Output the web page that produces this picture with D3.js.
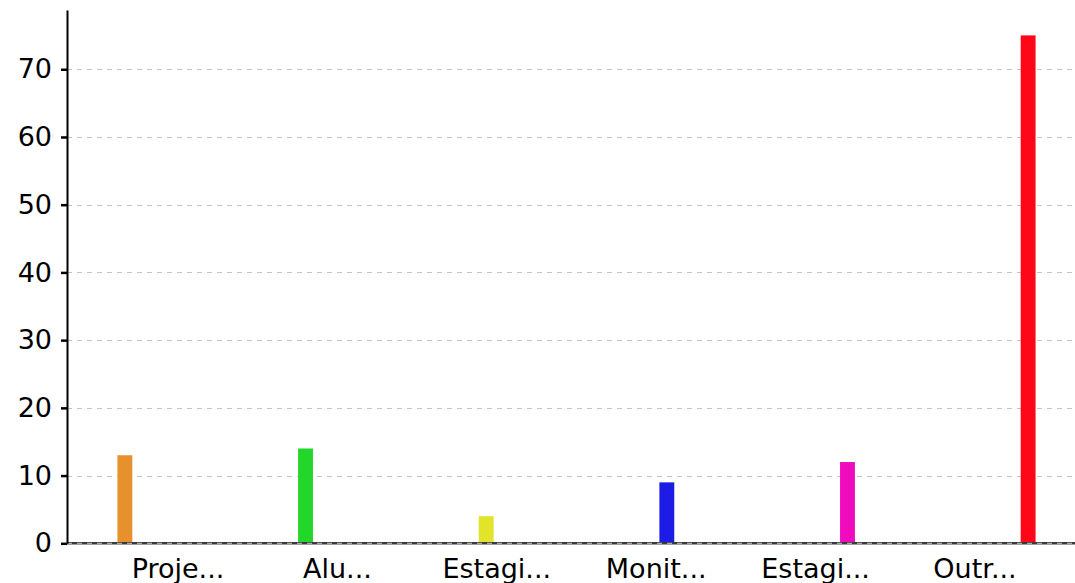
<!DOCTYPE html>
<html>
<head>
<meta charset="utf-8">
<script src="https://cdn.jsdelivr.net/npm/d3@7"></script>
<style>
  html, body { margin: 0; padding: 0; background: #fff; }
  svg { display: block; font-family: "DejaVu Sans", sans-serif; }
</style>
</head>
<body>
<svg id="chart" width="1075" height="583"></svg>
<script>
// Category labels (shortened as displayed) and one series per category
const categories = ["Proje...", "Alu...", "Estagi...", "Monit...", "Estagi...", "Outr..."];
const seriesKeys = ["s0", "s1", "s2", "s3", "s4", "s5"];
const values = [13, 14, 4, 9, 12, 75];
const colors = ["#e6912d", "#22d72a", "#e2e42a", "#1c1ce6", "#f00cbe", "#ff0619"];
const yTicks = [0, 10, 20, 30, 40, 50, 60, 70];

// Each category holds a value only in its own series slot
const rows = categories.map((c, i) => ({
  idx: i,
  label: c,
  vals: seriesKeys.map((k, j) => ({ key: k, j, value: j === i ? values[i] : 0 }))
}));

const svg = d3.select("#chart");
const plotLeft = 67, plotRight = 1075, plotTop = 10, plotBottom = 543.3;

const x0 = d3.scaleBand()
  .domain(d3.range(categories.length))
  .range([98.3, 1054.7])
  .paddingInner(0.2)
  .paddingOuter(0.1);

const x1 = d3.scaleBand()
  .domain(seriesKeys)
  .range([0, x0.bandwidth()]);

const y = d3.scaleLinear()
  .domain([0, d3.max(values) * 1.05])
  .range([plotBottom, plotTop]);

// Dashed horizontal grid
svg.append("g")
  .selectAll("line")
  .data(yTicks)
  .join("line")
  .attr("x1", plotLeft)
  .attr("x2", plotRight)
  .attr("y1", d => Math.round(y(d)) + 0.5)
  .attr("y2", d => Math.round(y(d)) + 0.5)
  .attr("stroke", "#c4c4c4")
  .attr("stroke-width", 1.2)
  .attr("stroke-dasharray", "5,5");

// Bars
const barW = x1.bandwidth() * 0.7;
svg.append("g")
  .selectAll("g")
  .data(rows)
  .join("g")
  .attr("transform", d => `translate(${x0(d.idx)},0)`)
  .selectAll("rect")
  .data(d => d.vals.filter(v => v.value > 0))
  .join("rect")
  .attr("x", d => x1(d.key) + (x1.bandwidth() - barW) / 2)
  .attr("width", barW)
  .attr("y", d => y(d.value))
  .attr("height", d => y(0) - y(d.value))
  .attr("fill", d => colors[d.j]);

// X axis baseline and labels
const xAxis = svg.append("g").attr("transform", `translate(0,${plotBottom})`);
xAxis.append("line")
  .attr("x1", plotLeft).attr("x2", plotRight)
  .attr("stroke", "#3a3a3a").attr("stroke-width", 2.5);
xAxis.append("line")
  .attr("x1", plotLeft).attr("x2", plotRight)
  .attr("stroke", "#c8c8c8").attr("stroke-width", 1)
  .attr("stroke-dasharray", "5,5");
xAxis.selectAll("text")
  .data(rows)
  .join("text")
  .attr("x", d => x0(d.idx) + x0.bandwidth() / 2)
  .attr("y", 35)
  .attr("text-anchor", "middle")
  .attr("font-size", 27)
  .attr("fill", "#000")
  .text(d => d.label);

// Y axis
const yAxis = svg.append("g")
  .attr("transform", `translate(${plotLeft},0)`)
  .call(d3.axisLeft(y).tickValues(yTicks).tickSize(6).tickPadding(9).tickSizeOuter(0));
yAxis.select(".domain").attr("stroke", "#000").attr("stroke-width", 2);
yAxis.selectAll(".tick line").attr("stroke", "#000").attr("stroke-width", 2.5);
yAxis.selectAll(".tick text")
  .attr("font-size", 27)
  .attr("font-family", "DejaVu Sans, sans-serif")
  .attr("fill", "#000");
</script>
</body>
</html>
